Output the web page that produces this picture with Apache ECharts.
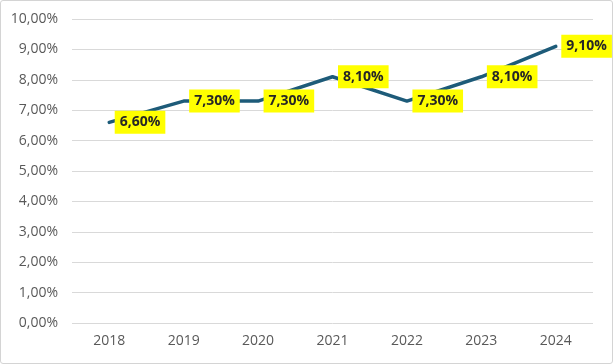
<!DOCTYPE html>
<html>
<head>
<meta charset="utf-8">
<script src="https://cdn.jsdelivr.net/npm/echarts@6/dist/echarts.min.js"></script>
<style>
html,body{margin:0;padding:0;background:#fff;}
#wrap{position:absolute;left:0;top:0;width:611px;height:362px;border:1px solid #d4d4d4;border-radius:3px;}
#chart{position:absolute;left:-1px;top:-1px;width:613px;height:364px;}
</style>
</head>
<body>
<div id="wrap"><div id="chart"></div></div>
<script>
var categories = ['2018','2019','2020','2021','2022','2023','2024'];
var values = [6.6, 7.3, 7.3, 8.1, 7.3, 8.1, 9.1];
var yMin = 0, yMax = 10, yInterval = 1;

function pct(v){ return v.toFixed(2).replace('.', ',') + '%'; }

var chart = echarts.init(document.getElementById('chart'), null, {renderer:'canvas'});
chart.setOption({
  animation:false,
  grid:{left:72,right:20,top:19,bottom:41},
  xAxis:{
    type:'category',
    data:categories,
    boundaryGap:true,
    axisLine:{show:false},
    axisTick:{show:false},
    axisLabel:{color:'#595959',fontSize:14,fontFamily:'Open Sans',margin:11}
  },
  yAxis:{
    type:'value',
    min:yMin,max:yMax,interval:yInterval,
    axisLine:{show:false},
    axisTick:{show:false},
    splitLine:{lineStyle:{color:'#d9d9d9',width:1}},
    axisLabel:{color:'#595959',fontSize:14,fontFamily:'Open Sans',margin:14,formatter:pct}
  },
  series:[{
    type:'line',
    data:values,
    symbol:'circle',
    symbolSize:1,
    showSymbol:true,
    itemStyle:{color:'#1d5b79'},
    lineStyle:{color:'#1d5b79',width:3.5,cap:'round',join:'round'},
    labelLayout:{hideOverlap:false},
    label:{
      show:true,
      position:'right',
      distance:5,
      offset:[0,1],
      formatter:function(p){return pct(p.value);},
      backgroundColor:'#ffff00',
      padding:[5,5,4,5],
      color:'#262626',
      fontWeight:'bold',
      fontSize:14,
      fontFamily:'Open Sans'
    }
  }]
});
</script>
</body>
</html>
